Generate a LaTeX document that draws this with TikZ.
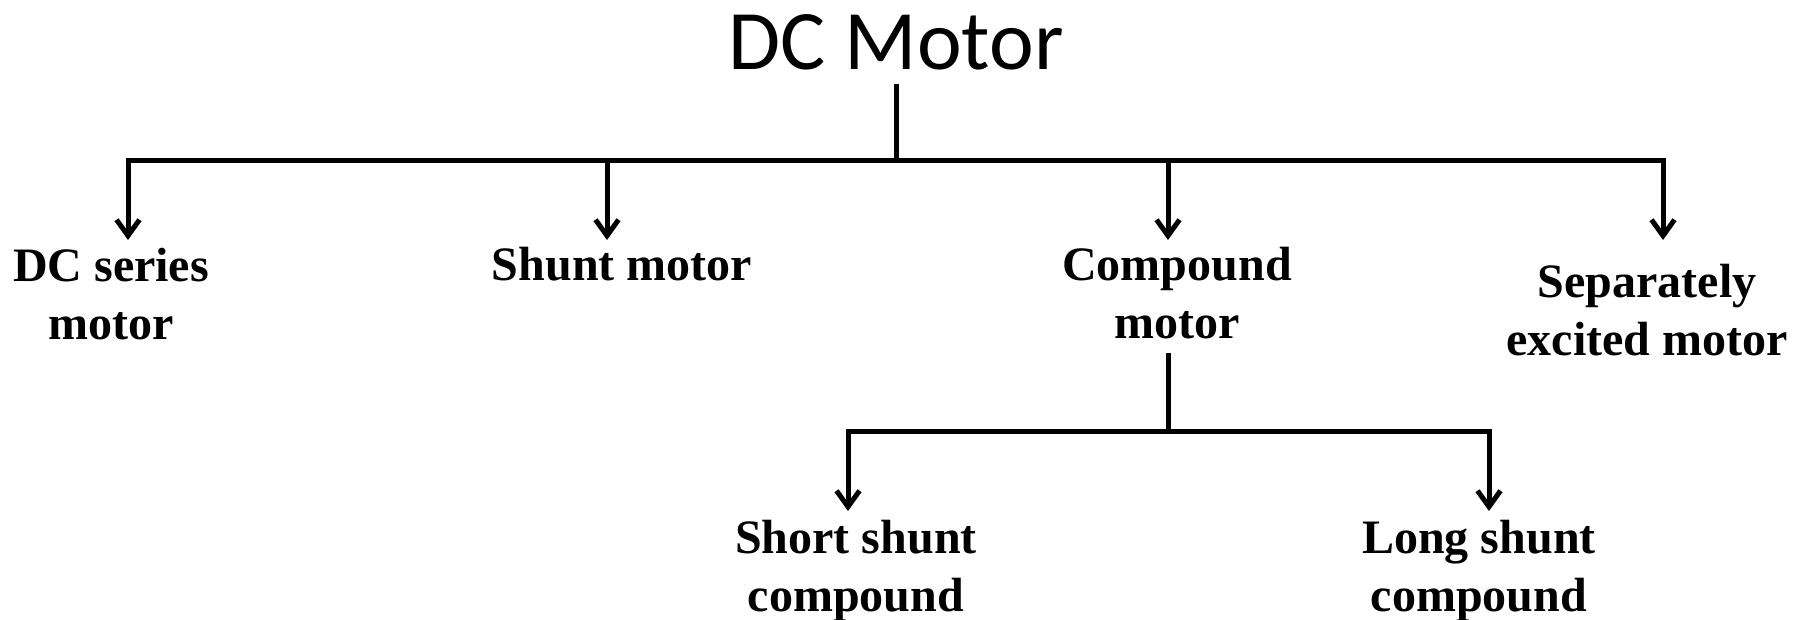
\documentclass[tikz,border=0pt]{standalone}
\usepackage{fontspec}
\setmainfont{Liberation Serif}
\newfontfamily\titlefont{Carlito}
\usetikzlibrary{arrows.meta}
\tikzset{
  conn/.style={line width=5pt, black},
  arr/.style={conn, -{Straight Barb[length=16pt,width=23pt]}},
  lbl/.style={inner sep=0pt, anchor=base, align=center,
    font=\fontsize{48}{57.6}\selectfont\bfseries},
  ttl/.style={inner sep=0pt, anchor=base, font=\titlefont\fontsize{84.7}{100}\selectfont}
}
\begin{document}
\begin{tikzpicture}[x=1pt,y=-1pt]
\path[use as bounding box] (0,0) rectangle (1804,619);
% nodes (base = baseline of the last line)
\node[ttl] (t) at (896,69) {DC Motor};
\node[lbl] (dcs) at (111,339) {DC series\\motor};
\node[lbl] (shunt) at (622,280) {Shunt motor};
\node[lbl] (comp) at (1177,338) {Compound\\motor};
\node[lbl] (sep) at (1647,355) {Separately\\excited motor};
\node[lbl] (short) at (856,611) {Short shunt\\compound};
\node[lbl] (long) at (1479,611) {Long shunt\\compound};
% junctions and arrow tips
\coordinate (j) at (896,160);
\coordinate (tA) at (128,240);
\coordinate (tB) at (607,240);
\coordinate (tC) at (1168,240);
\coordinate (tD) at (1663,240);
\coordinate (c0) at (1168,353);
\coordinate (j2) at (1168,431);
\coordinate (tE) at (848,511);
\coordinate (tF) at (1489,511);
% connectors
\draw[conn] ([yshift=-14pt]t.south) -- (j);
\draw[arr] (j) -| (tA);
\draw[arr] (j) -| (tB);
\draw[arr] (j) -| (tC);
\draw[arr] (j) -| (tD);
\draw[conn] (c0) -- (j2);
\draw[arr] (j2) -| (tE);
\draw[arr] (j2) -| (tF);
\end{tikzpicture}
\end{document}
